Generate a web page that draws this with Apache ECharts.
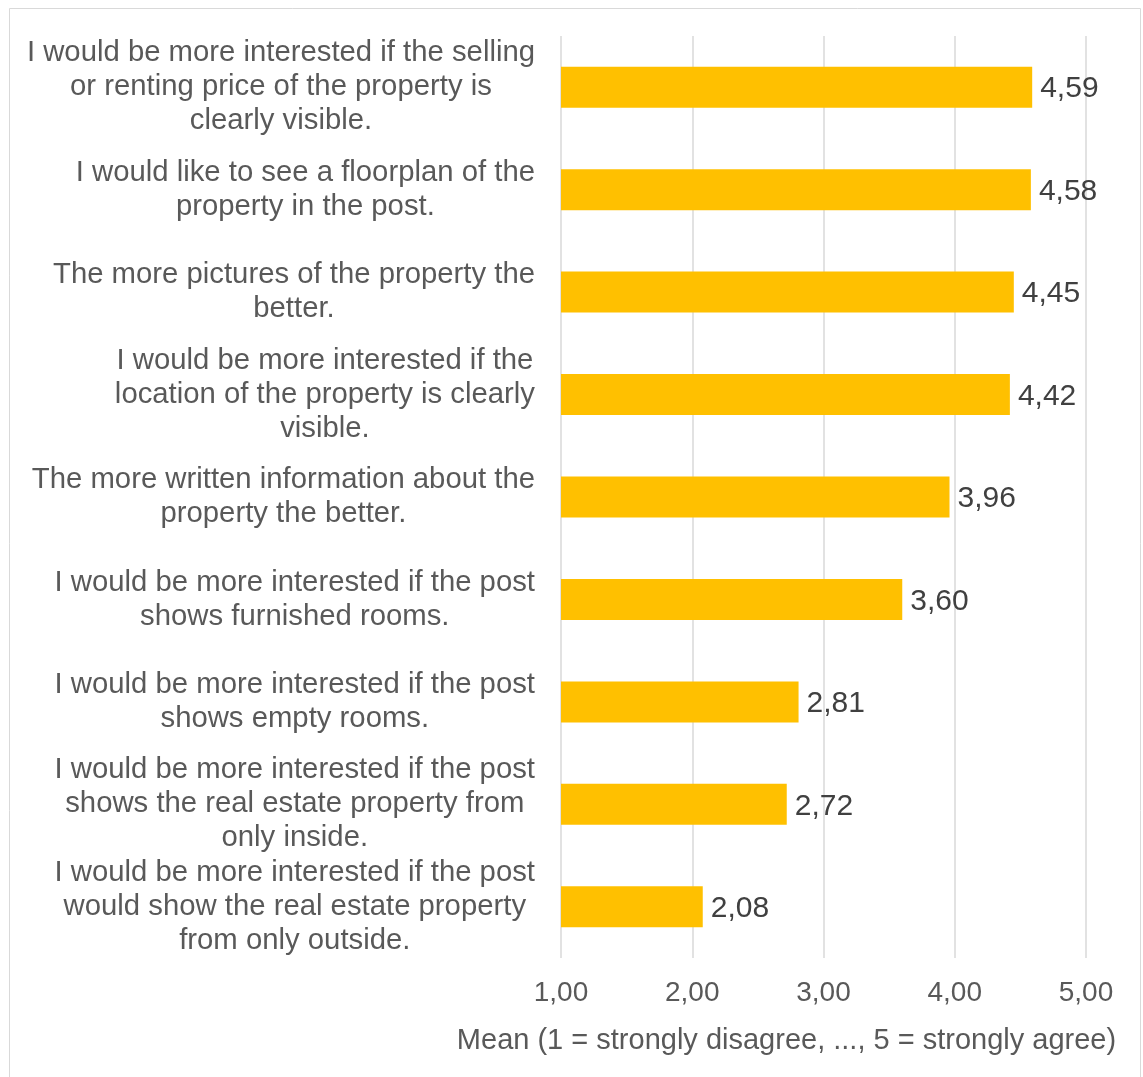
<!DOCTYPE html>
<html>
<head>
<meta charset="utf-8">
<script src="https://cdn.jsdelivr.net/npm/echarts@6/dist/echarts.min.js"></script>
<style>
  html, body { margin: 0; padding: 0; background: #ffffff; }
  #chart { width: 1143px; height: 1077px; }
</style>
</head>
<body>
<div id="chart"></div>
<script>
// Survey statements (top to bottom) and their mean agreement scores
const statements = [
  'I would be more interested if the selling\nor renting price of the property is\nclearly visible.',
  'I would like to see a floorplan of the\nproperty in the post.',
  'The more pictures of the property the\nbetter.',
  'I would be more interested if the\nlocation of the property is clearly\nvisible.',
  'The more written information about the\nproperty the better.',
  'I would be more interested if the post\nshows furnished rooms.',
  'I would be more interested if the post\nshows empty rooms.',
  'I would be more interested if the post\nshows the real estate property from\nonly inside.',
  'I would be more interested if the post\nwould show the real estate property\nfrom only outside.'
];
const means = [4.59, 4.58, 4.45, 4.42, 3.96, 3.60, 2.81, 2.72, 2.08];
const scaleTicks = [1, 2, 3, 4, 5];
const axisTitle = 'Mean (1 = strongly disagree, ..., 5 = strongly agree)';

const FONT = '"Liberation Sans", Arial, Helvetica, sans-serif';
const comma = (v, d) => v.toFixed(d).replace('.', ',');

const chart = echarts.init(document.getElementById('chart'), null, { renderer: 'canvas' });

chart.setOption({
  backgroundColor: '#ffffff',
  animation: false,
  graphic: [{
    type: 'rect',
    shape: { x: 9.5, y: 8.5, width: 1131, height: 1090 },
    style: { fill: 'none', stroke: '#d9d9d9', lineWidth: 1 },
    silent: true,
    z: -10
  }],
  grid: { left: 561, right: 57, top: 36, bottom: 119, containLabel: false },
  xAxis: {
    type: 'value',
    min: scaleTicks[0],
    max: scaleTicks[scaleTicks.length - 1],
    interval: 1,
    axisLine: { show: false },
    axisTick: { show: false },
    splitLine: { show: true, lineStyle: { color: '#d9d9d9', width: 1.5 } },
    axisLabel: {
      margin: 21,
      color: '#595959',
      fontSize: 28,
      fontFamily: FONT,
      formatter: v => comma(v, 2)
    },
    name: axisTitle,
    nameLocation: 'middle',
    nameGap: 68,
    nameTextStyle: {
      color: '#595959',
      fontSize: 29,
      fontFamily: FONT,
      padding: [0, 74, 0, 0]
    }
  },
  yAxis: {
    type: 'category',
    data: statements,
    inverse: true,
    axisLine: { show: false },
    axisTick: { show: false },
    splitLine: { show: false },
    axisLabel: {
      margin: 26,
      align: 'right',
      formatter: v => v.split('\n').map(s => '{c|' + s + '}').join('\n'),
      rich: {
        c: {
          align: 'center',
          color: '#595959',
          fontSize: 29.3,
          lineHeight: 34,
          fontFamily: FONT
        }
      }
    }
  },
  series: [{
    type: 'bar',
    data: means,
    barWidth: '40%',
    itemStyle: { color: '#FFC000' },
    label: {
      show: true,
      position: 'right',
      distance: 8,
      offset: [0, 2],
      color: '#404040',
      fontSize: 30,
      fontFamily: FONT,
      formatter: p => comma(p.value, 2)
    }
  }]
});
</script>
</body>
</html>
